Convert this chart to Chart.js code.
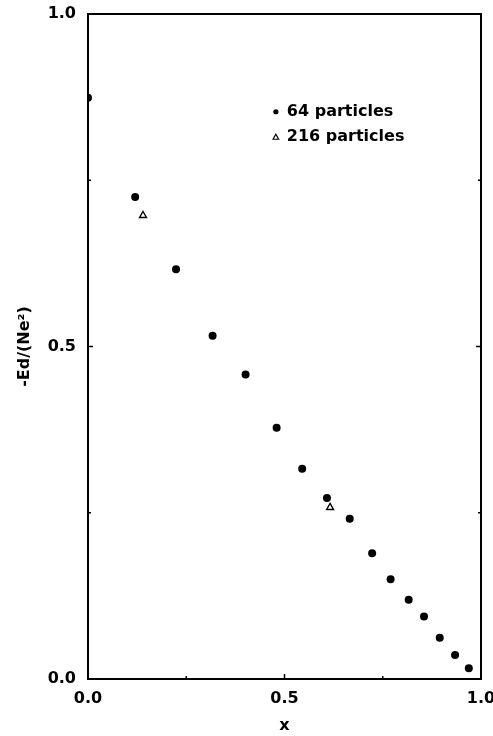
<!DOCTYPE html>
<html>
<head>
<meta charset="utf-8">
<script src="https://cdn.jsdelivr.net/npm/chart.js@4/dist/chart.umd.min.js"></script>
<style>
html,body{margin:0;padding:0;background:#fff;}
#wrap{width:493px;height:736px;}
</style>
</head>
<body>
<div id="wrap"><canvas id="c" width="493" height="736"></canvas></div>
<script>
// 64 particles
const x64 = [0.0, 0.12, 0.224, 0.317, 0.401, 0.480, 0.545, 0.608, 0.666, 0.723, 0.770, 0.816, 0.855, 0.895, 0.934, 0.969];
const y64 = [0.874, 0.725, 0.616, 0.516, 0.458, 0.378, 0.316, 0.272, 0.241, 0.189, 0.150, 0.119, 0.094, 0.062, 0.036, 0.016];
// 216 particles
const x216 = [0.140, 0.616];
const y216 = [0.697, 0.258];
const seriesLabels = ['64 particles', '216 particles'];
const xTicks = [0.0, 0.5, 1.0];
const yTicks = [0.0, 0.5, 1.0];
const minorTicks = [0.25, 0.75];

const FAMILY = '"DejaVu Sans", "Liberation Sans", Arial, sans-serif';
const FONT = 'bold 16px ' + FAMILY;

const frameAndTicks = {
  id: 'frameAndTicks',
  afterDraw(chart) {
    const ctx = chart.ctx, a = chart.chartArea;
    const xs = chart.scales.x, ys = chart.scales.y;
    ctx.save();
    ctx.strokeStyle = '#000';
    ctx.lineWidth = 2;
    ctx.strokeRect(a.left, a.top, a.right - a.left, a.bottom - a.top);
    ctx.lineWidth = 1.5;
    ctx.beginPath();
    const mx = xs.getPixelForValue(0.5), my = ys.getPixelForValue(0.5);
    ctx.moveTo(mx, a.bottom); ctx.lineTo(mx, a.bottom - 5);
    ctx.moveTo(a.left, my); ctx.lineTo(a.left + 5, my);
    ctx.moveTo(a.right, my); ctx.lineTo(a.right - 5, my);
    minorTicks.forEach(v => {
      const px = xs.getPixelForValue(v), py = ys.getPixelForValue(v);
      ctx.moveTo(px, a.bottom); ctx.lineTo(px, a.bottom - 3);
      ctx.moveTo(a.left, py); ctx.lineTo(a.left + 3, py);
      ctx.moveTo(a.right, py); ctx.lineTo(a.right - 3, py);
    });
    ctx.stroke();
    // legend
    const lx = xs.getPixelForValue(0.478), ly1 = ys.getPixelForValue(0.853), ly2 = ys.getPixelForValue(0.815);
    ctx.fillStyle = '#000';
    ctx.beginPath(); ctx.arc(lx, ly1, 2.6, 0, Math.PI * 2); ctx.fill();
    ctx.lineWidth = 1.2;
    ctx.beginPath();
    ctx.moveTo(lx, ly2 - 2.8); ctx.lineTo(lx + 2.8, ly2 + 2.2); ctx.lineTo(lx - 2.8, ly2 + 2.2); ctx.closePath();
    ctx.stroke();
    ctx.font = FONT;
    ctx.textBaseline = 'middle';
    ctx.textAlign = 'left';
    ctx.fillText(seriesLabels[0], lx + 11, ly1);
    ctx.fillText(seriesLabels[1], lx + 11, ly2);
    ctx.restore();
  }
};

function zeroPad(s) { s.paddingTop = 0; s.paddingBottom = 0; s.paddingLeft = 0; s.paddingRight = 0; }

new Chart(document.getElementById('c'), {
  type: 'scatter',
  data: {
    datasets: [
      {
        label: seriesLabels[0],
        data: x64.map((x, i) => ({x: x, y: y64[i]})),
        pointStyle: 'circle',
        pointRadius: 4,
        backgroundColor: '#000',
        borderColor: '#000',
        borderWidth: 0
      },
      {
        label: seriesLabels[1],
        data: x216.map((x, i) => ({x: x, y: y216[i]})),
        pointStyle: 'triangle',
        pointRadius: 4,
        backgroundColor: 'rgba(255,255,255,0)',
        borderColor: '#000',
        borderWidth: 1.4
      }
    ]
  },
  options: {
    responsive: false,
    animation: false,
    devicePixelRatio: 1,
    layout: {padding: {top: 14, right: 12, left: 0, bottom: 0}},
    plugins: {legend: {display: false}, tooltip: {enabled: false}},
    scales: {
      x: {
        type: 'linear', min: 0, max: 1,
        afterBuildTicks: s => { s.ticks = xTicks.map(v => ({value: v})); },
        afterFit: s => { s.height = 57; zeroPad(s); },
        ticks: {color: '#000', font: {family: FAMILY, size: 16, weight: 'bold'}, padding: 10, maxRotation: 0, callback: v => v.toFixed(1)},
        grid: {display: false, drawTicks: false},
        border: {display: true, color: '#000', width: 2},
        title: {display: true, text: 'x', color: '#000', font: {family: FAMILY, size: 16, weight: 'bold'}, padding: {top: 0, bottom: 1}}
      },
      y: {
        type: 'linear', min: 0, max: 1,
        afterBuildTicks: s => { s.ticks = yTicks.map(v => ({value: v})); },
        afterFit: s => { s.width = 88; zeroPad(s); },
        ticks: {color: '#000', font: {family: FAMILY, size: 16, weight: 'bold'}, padding: 12, callback: v => v.toFixed(1)},
        grid: {display: false, drawTicks: false},
        border: {display: true, color: '#000', width: 2},
        title: {display: true, text: '-Ed/(Ne²)', color: '#000', font: {family: FAMILY, size: 16, weight: 'bold'}, padding: {top: 15, bottom: 0}}
      }
    }
  },
  plugins: [frameAndTicks]
});
</script>
</body>
</html>
